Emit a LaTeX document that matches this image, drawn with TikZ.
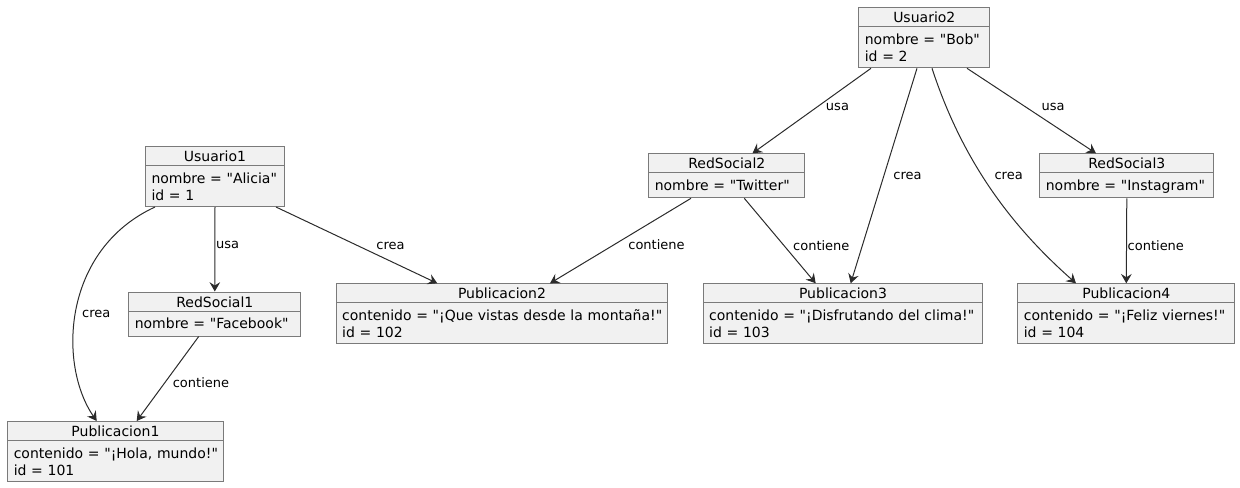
\documentclass[tikz,border=0pt]{standalone}
\usepackage{fontspec}
\setmainfont{DejaVu Sans}
\usetikzlibrary{shapes.multipart,arrows.meta,calc}
\definecolor{fondo}{HTML}{F1F1F1}
\definecolor{borde}{HTML}{7A7A7A}
\definecolor{linea}{HTML}{2B2B2B}
\tikzset{
  objeto/.style={rectangle split, rectangle split parts=2, draw=borde, fill=fondo,
    line width=0.75pt, inner xsep=4.5pt, inner ysep=0pt, anchor=north west,
    font=\fontsize{10.5pt}{12.75pt}\selectfont, align=left},
  flecha/.style={-{Stealth[length=7pt,width=8pt,inset=2.5pt]}, draw=linea, line width=0.75pt},
  etiqueta/.style={font=\fontsize{9.75pt}{11pt}\selectfont, inner sep=0pt, anchor=west},
}
\newcommand{\cabecera}[1]{\makebox[\linewidth][c]{\rule[-2.5pt]{0pt}{13.5pt}#1}}
\newcommand{\arriba}{\rule{0pt}{12.75pt}}
\newcommand{\abajo}[1]{\rule[-#1]{0pt}{#1}}
\newcommand{\linea}[1]{\mbox{#1}}
\newcommand{\q}{\textquotedbl}

\begin{document}
\begin{tikzpicture}[x=0.75pt,y=-0.75pt]
    \useasboundingbox (0,0) rectangle (1240,487);

    %Usuarios
    \node[objeto,text width=95.25pt] (u1) at (145,146) {\cabecera{Usuario1}%
      \nodepart{two}\arriba\linea{nombre = \q{}Alicia\q}\\id = 1\abajo{4.5pt}};
    \node[objeto,text width=89.25pt] (u2) at (858.3,7.3) {\cabecera{Usuario2}%
      \nodepart{two}\arriba\linea{nombre = \q{}Bob\q}\\id = 2\abajo{4.5pt}};
    %Redes sociales
    \node[objeto,text width=120pt] (r1) at (128.3,291.5) {\cabecera{RedSocial1}%
      \nodepart{two}\arriba\linea{nombre = \q{}Facebook\q}\abajo{5.25pt}};
    \node[objeto,text width=108pt] (r2) at (648.3,153.3) {\cabecera{RedSocial2}%
      \nodepart{two}\arriba\linea{nombre = \q{}Twitter\q}\abajo{5.25pt}};
    \node[objeto,text width=121.5pt] (r3) at (1039.3,153.3) {\cabecera{RedSocial3}%
      \nodepart{two}\arriba\linea{nombre = \q{}Instagram\q}\abajo{5.25pt}};
    %Publicaciones
    \node[objeto,text width=152.5pt] (p1) at (7.3,421) {\cabecera{Publicacion1}%
      \nodepart{two}\arriba\linea{contenido = \q{}¡Hola, mundo!\q}\\id = 101\abajo{4.5pt}};
    \node[objeto,text width=239.7pt] (p2) at (335.7,283.3) {\cabecera{Publicacion2}%
      \nodepart{two}\arriba\linea{contenido = \q{}¡Que vistas desde la montaña!\q}\\id = 102\abajo{4.5pt}};
    \node[objeto,text width=200.7pt] (p3) at (702.7,283.3) {\cabecera{Publicacion3}%
      \nodepart{two}\arriba\linea{contenido = \q{}¡Disfrutando del clima!\q}\\id = 103\abajo{4.5pt}};
    \node[objeto,text width=153.75pt] (p4) at (1017.3,283.3) {\cabecera{Publicacion4}%
      \nodepart{two}\arriba\linea{contenido = \q{}¡Feliz viernes!\q}\\id = 104\abajo{4.5pt}};

    %Usuario1
    \draw[flecha] (u1.south) -- (r1.north) node[etiqueta,pos=0.45,xshift=0.5pt]{usa};
    \draw[flecha] ($(u1.south west)+(10,0)$) .. controls (62,250) and (58,365) .. ($(p1.north west)+(89.4,0)$)
      node[etiqueta,pos=0.52,xshift=4.5pt]{crea};
    \draw[flecha] ($(u1.south west)+(131,0)$) -- ($(p2.north west)+(101.6,0)$)
      node[etiqueta,pos=0.513,xshift=12.9pt]{crea};
    \draw[flecha] ($(r1.south west)+(70.4,0)$) -- ($(p1.north west)+(129.4,0)$)
      node[etiqueta,pos=0.55,xshift=5.8pt]{contiene};
    %Usuario2
    \draw[flecha] ($(u2.south west)+(12.7,0)$) -- ($(r2.north west)+(104.2,0)$)
      node[etiqueta,pos=0.46,xshift=6.75pt]{usa};
    \draw[flecha] ($(u2.south west)+(58.7,0)$) -- ($(p3.north west)+(148,0)$)
      node[etiqueta,pos=0.5,xshift=6.75pt]{crea};
    \draw[flecha] ($(u2.south west)+(73.7,0)$) .. controls (962,160) and (1010,225) .. ($(p4.north west)+(58.7,0)$)
      node[etiqueta,pos=0.44,xshift=9pt]{crea};
    \draw[flecha] ($(u2.south west)+(108.7,0)$) -- ($(r3.north west)+(56.7,0)$)
      node[etiqueta,pos=0.46,xshift=11pt]{usa};
    %Contiene
    \draw[flecha] ($(r2.south west)+(42.7,0)$) -- ($(p2.north west)+(214.3,0)$)
      node[etiqueta,pos=0.547,xshift=10.5pt]{contiene};
    \draw[flecha] ($(r2.south west)+(96,0)$) -- ($(p3.north west)+(113,0)$)
      node[etiqueta,pos=0.558,xshift=6.4pt]{contiene};
    \draw[flecha] (r3.south) -- (p4.north) node[etiqueta,pos=0.558,xshift=0.5pt]{contiene};
\end{tikzpicture}
\end{document}
